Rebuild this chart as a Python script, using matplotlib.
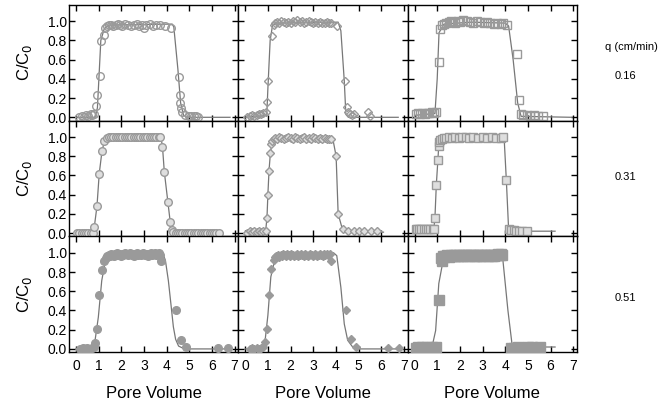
import matplotlib
matplotlib.use("Agg")
import matplotlib.pyplot as plt

plt.rcParams["font.family"] = ["Liberation Sans", "DejaVu Sans"]

# --- data (pore volume, C/C0) ---
# row 1: q = 0.16 cm/min
pv_00 = [0.15, 0.25, 0.35, 0.45, 0.55, 0.65, 0.72, 0.8, 0.9, 0.95, 1.05, 1.12, 1.22, 1.3, 1.38, 1.45,
         1.55, 1.65, 1.75, 1.85, 1.95, 2.05, 2.15, 2.3, 2.45, 2.55, 2.7, 2.8, 2.9, 3.0, 3.1, 3.25, 3.4,
         3.55, 3.7, 3.95, 4.2, 4.56, 4.58, 4.61, 4.64, 4.7, 4.8, 5.0, 5.1, 5.2, 5.3, 5.4]
c_00 = [0.0, 0.01, 0.0, 0.02, 0.01, 0.03, 0.02, 0.03, 0.12, 0.23, 0.43, 0.79, 0.86, 0.93, 0.95, 0.96,
        0.96, 0.95, 0.96, 0.97, 0.96, 0.95, 0.97, 0.96, 0.95, 0.96, 0.97, 0.95, 0.96, 0.93, 0.96, 0.97,
        0.95, 0.96, 0.96, 0.95, 0.93, 0.42, 0.23, 0.15, 0.1, 0.05, 0.02, 0.01, 0.01, 0.01, 0.01, 0.0]
fit_x_00 = [0.0, 0.85, 0.95, 1.1, 1.25, 1.45, 4.25, 4.32, 4.5, 4.62, 4.75, 4.9, 6.8]
fit_y_00 = [0.0, 0.0, 0.1, 0.8, 0.92, 0.96, 0.97, 0.94, 0.5, 0.15, 0.02, 0.0, 0.0]

pv_01 = [0.1, 0.2, 0.3, 0.4, 0.5, 0.6, 0.7, 0.8, 0.9, 0.96, 1.0, 1.19, 1.25, 1.33, 1.42, 1.5, 1.6,
         1.7, 1.8, 1.9, 2.0, 2.1, 2.2, 2.3, 2.4, 2.5, 2.6, 2.7, 2.8, 2.9, 3.0, 3.1, 3.2, 3.3, 3.4,
         3.5, 3.6, 3.7, 3.8, 4.07, 4.41, 4.49, 4.55, 4.62, 4.7, 4.8, 5.4, 5.5]
c_01 = [0.0, 0.01, 0.02, 0.01, 0.02, 0.03, 0.03, 0.04, 0.05, 0.16, 0.38, 0.85, 0.96, 0.98, 0.99, 0.98,
        1.0, 0.99, 0.98, 0.99, 0.98, 1.0, 0.99, 1.01, 0.99, 1.0, 0.98, 0.99, 1.0, 0.99, 0.98, 0.99,
        0.98, 0.99, 0.98, 0.98, 0.99, 0.98, 0.98, 0.95, 0.38, 0.11, 0.05, 0.03, 0.02, 0.03, 0.05, 0.01]
fit_x_01 = [0.0, 0.95, 1.0, 1.1, 1.2, 1.35, 4.1, 4.22, 4.37, 4.44, 4.55, 6.75]
fit_y_01 = [0.0, 0.02, 0.3, 0.8, 0.95, 0.98, 0.99, 0.9, 0.38, 0.03, 0.0, 0.0]

pv_02 = [0.05, 0.15, 0.25, 0.35, 0.45, 0.55, 0.65, 0.75, 0.85, 0.95, 1.07, 1.12, 1.2, 1.3, 1.4, 1.5,
         1.6, 1.7, 1.8, 1.9, 2.0, 2.15, 2.3, 2.45, 2.6, 2.75, 2.9, 3.05, 3.2, 3.35, 3.5, 3.65, 3.8,
         3.9, 4.09, 4.51, 4.61, 4.68, 4.8, 4.95, 5.1, 5.25, 5.45, 5.65]
c_02 = [0.03, 0.04, 0.03, 0.04, 0.03, 0.04, 0.04, 0.05, 0.04, 0.06, 0.58, 0.92, 0.96, 0.97, 0.98, 0.99,
        1.0, 0.99, 0.98, 1.0, 0.99, 1.01, 1.0, 0.99, 0.98, 1.0, 0.99, 0.98, 0.99, 0.98, 0.97, 0.98,
        0.97, 0.98, 0.96, 0.66, 0.18, 0.03, 0.02, 0.02, 0.01, 0.02, 0.01, 0.01]
fit_x_02 = [0.0, 0.9, 1.0, 1.08, 1.3, 2.5, 4.0, 4.15, 4.35, 4.55, 4.7, 6.95]
fit_y_02 = [0.02, 0.04, 0.4, 0.88, 0.97, 0.99, 0.98, 0.95, 0.6, 0.15, 0.01, 0.0]

# row 2: q = 0.31 cm/min
pv_10 = [0.05, 0.15, 0.25, 0.35, 0.45, 0.55, 0.65, 0.75, 0.81, 0.93, 1.03, 1.15, 1.26, 1.36, 1.45,
         1.55, 1.65, 1.75, 1.85, 1.95, 2.05, 2.15, 2.25, 2.35, 2.45, 2.55, 2.65, 2.75, 2.85, 2.95,
         3.05, 3.15, 3.25, 3.35, 3.45, 3.55, 3.65, 3.72, 3.82, 3.9, 4.06, 4.16, 4.23, 4.3, 4.4, 4.5,
         4.6, 4.7, 4.8, 4.9, 5.0, 5.1, 5.2, 5.3, 5.4, 5.5, 5.6, 5.7, 5.8, 5.9, 6.0, 6.1, 6.2, 6.3]
c_10 = [0.0, 0.0, 0.0, 0.0, 0.0, 0.0, 0.0, 0.0, 0.06, 0.28, 0.62, 0.85, 0.96, 0.99, 1.0, 1.0, 1.0,
        1.0, 1.0, 1.0, 1.0, 1.0, 1.0, 1.0, 1.0, 1.0, 1.0, 1.0, 1.0, 1.0, 1.0, 1.0, 1.0, 1.0, 1.0, 1.0,
        1.0, 1.0, 0.9, 0.64, 0.32, 0.12, 0.03, 0.01, 0.0, 0.0, 0.0, 0.0, 0.0, 0.0, 0.0, 0.0, 0.0, 0.0,
        0.0, 0.0, 0.0, 0.0, 0.0, 0.0, 0.0, 0.0, 0.0, 0.0]
fit_x_10 = [0.0, 0.75, 0.81, 0.93, 1.03, 1.15, 1.26, 1.36, 3.75, 3.82, 3.9, 4.06, 4.16, 4.23, 4.35, 6.3]
fit_y_10 = [0.0, 0.0, 0.06, 0.28, 0.62, 0.85, 0.96, 1.0, 1.0, 0.9, 0.64, 0.32, 0.12, 0.03, 0.0, 0.0]

pv_11 = [0.1, 0.2, 0.3, 0.4, 0.5, 0.6, 0.7, 0.8, 0.9, 0.96, 1.0, 1.05, 1.11, 1.14, 1.19, 1.25, 1.32,
         1.4, 1.5, 1.6, 1.7, 1.8, 1.9, 2.0, 2.1, 2.2, 2.3, 2.4, 2.5, 2.6, 2.7, 2.8, 2.9, 3.0, 3.1,
         3.2, 3.3, 3.4, 3.5, 3.6, 3.7, 3.78, 4.01, 4.1, 4.3, 4.52, 4.79, 5.04, 5.26, 5.53, 5.82]
c_11 = [0.0, 0.02, 0.01, 0.02, 0.01, 0.02, 0.01, 0.02, 0.02, 0.16, 0.4, 0.65, 0.83, 0.93, 0.96,
        0.98, 0.99, 0.98, 1.0, 0.99, 0.98, 0.99, 1.0, 0.99, 0.98, 1.0, 0.99, 0.98, 0.99, 1.0, 0.98,
        0.99, 0.98, 1.0, 0.99, 0.98, 0.99, 0.98, 0.99, 0.98, 0.98, 0.98, 0.8, 0.2, 0.04, 0.02, 0.02,
        0.02, 0.02, 0.02, 0.02]
fit_x_11 = [0.0, 0.9, 0.96, 1.0, 1.05, 1.11, 1.2, 1.4, 3.85, 4.01, 4.1, 4.3, 4.5, 6.1]
fit_y_11 = [0.0, 0.02, 0.16, 0.4, 0.65, 0.83, 0.97, 1.0, 1.0, 0.8, 0.2, 0.03, 0.01, 0.01]

pv_12 = [0.05, 0.12, 0.2, 0.3, 0.4, 0.5, 0.6, 0.7, 0.8, 0.87, 0.9, 0.96, 1.03, 1.07, 1.1, 1.13, 1.2,
         1.3, 1.4, 1.5, 1.65, 1.8, 1.95, 2.1, 2.25, 2.4, 2.6, 2.8, 3.0, 3.2, 3.4, 3.6, 3.8, 3.9,
         4.05, 4.15, 4.27, 4.37, 4.47, 4.6, 4.75, 4.94]
c_12 = [0.04, 0.04, 0.04, 0.04, 0.04, 0.04, 0.04, 0.04, 0.04, 0.04, 0.16, 0.5, 0.76, 0.91, 0.95,
        0.97, 0.98, 0.99, 0.99, 1.0, 0.99, 1.0, 0.99, 1.0, 1.0, 0.99, 1.0, 0.99, 1.0, 0.99, 1.0,
        0.99, 0.99, 1.0, 0.55, 0.04, 0.03, 0.03, 0.02, 0.02, 0.02, 0.02]
fit_x_12 = [0.0, 0.85, 0.9, 0.96, 1.03, 1.07, 1.2, 3.95, 4.05, 4.15, 4.5, 6.2]
fit_y_12 = [0.04, 0.04, 0.16, 0.5, 0.76, 0.92, 0.98, 1.0, 0.55, 0.04, 0.02, 0.02]

# row 3: q = 0.51 cm/min
pv_20 = [0.2, 0.3, 0.4, 0.5, 0.6, 0.7, 0.8, 0.84, 0.93, 1.03, 1.14, 1.24, 1.32, 1.38, 1.44, 1.5,
         1.56, 1.62, 1.68, 1.74, 1.8, 1.86, 1.92, 1.98, 2.04, 2.1, 2.16, 2.22, 2.28, 2.34, 2.4, 2.46,
         2.52, 2.58, 2.64, 2.7, 2.76, 2.82, 2.88, 2.94, 3.0, 3.06, 3.12, 3.18, 3.24, 3.3, 3.36, 3.42,
         3.48, 3.54, 3.6, 3.66, 3.72, 3.76, 4.42, 4.65, 4.85, 6.27, 6.71]
c_20 = [0.0, 0.01, 0.0, 0.01, 0.0, 0.01, 0.02, 0.06, 0.21, 0.56, 0.82, 0.91, 0.95, 0.97, 0.98, 0.97,
        0.99, 0.98, 0.97, 0.99, 1.0, 0.98, 0.99, 0.97, 0.99, 0.98, 1.0, 0.99, 0.98, 0.99, 1.0, 0.98,
        0.99, 0.97, 0.99, 1.0, 0.98, 0.99, 0.98, 1.0, 0.99, 0.98, 0.99, 0.97, 0.99, 1.0, 0.98, 0.99,
        1.0, 0.98, 0.99, 1.0, 0.98, 0.91, 0.4, 0.09, 0.02, 0.01, 0.01]
fit_x_20 = [0.0, 0.6, 0.81, 0.99, 1.14, 1.28, 1.5, 1.7, 3.7, 3.86, 3.95, 4.08, 4.2, 4.3, 4.4, 4.53,
            4.7, 5.0, 6.9]
fit_y_20 = [0.0, 0.0, 0.03, 0.33, 0.71, 0.89, 0.97, 0.99, 1.0, 0.98, 0.92, 0.71, 0.45, 0.23, 0.1,
            0.03, 0.01, 0.0, 0.0]

pv_21 = [0.2, 0.3, 0.4, 0.5, 0.6, 0.7, 0.8, 0.86, 0.96, 1.05, 1.14, 1.26, 1.32, 1.38, 1.44, 1.5,
         1.56, 1.62, 1.68, 1.74, 1.8, 1.86, 1.92, 1.98, 2.04, 2.1, 2.16, 2.22, 2.28, 2.34, 2.4, 2.46,
         2.52, 2.58, 2.64, 2.7, 2.76, 2.82, 2.88, 2.94, 3.0, 3.06, 3.12, 3.18, 3.24, 3.3, 3.36, 3.42,
         3.48, 3.54, 3.6, 3.66, 3.72, 3.78, 4.44, 4.67, 4.89, 6.32, 6.77]
c_21 = [0.0, 0.01, 0.0, 0.01, 0.0, 0.01, 0.02, 0.07, 0.21, 0.56, 0.83, 0.93, 0.96, 0.97, 0.98, 0.96,
        0.98, 0.97, 0.99, 0.98, 0.97, 0.99, 0.98, 0.97, 0.99, 0.98, 0.97, 0.98, 0.99, 0.97, 0.98,
        0.99, 0.98, 0.97, 0.99, 0.98, 0.97, 0.98, 0.99, 0.98, 0.97, 0.99, 0.98, 0.97, 0.98, 0.99,
        0.98, 0.97, 0.99, 0.98, 0.99, 0.98, 0.99, 0.92, 0.4, 0.1, 0.02, 0.01, 0.01]
fit_x_21 = [0.0, 0.6, 0.85, 1.0, 1.13, 1.3, 1.5, 1.8, 3.9, 4.04, 4.22, 4.37, 4.52, 4.74, 5.0, 6.9]
fit_y_21 = [0.0, 0.0, 0.03, 0.35, 0.75, 0.92, 0.97, 0.99, 1.0, 0.97, 0.64, 0.26, 0.09, 0.02, 0.0, 0.0]

pv_22 = [0.05, 0.15, 0.25, 0.35, 0.45, 0.55, 0.65, 0.75, 0.85, 0.95, 1.07, 1.15, 1.2, 1.25, 1.3,
         1.36, 1.42, 1.48, 1.54, 1.6, 1.66, 1.72, 1.78, 1.84, 1.9, 1.96, 2.02, 2.08, 2.14, 2.2, 2.26,
         2.32, 2.38, 2.44, 2.5, 2.56, 2.62, 2.68, 2.74, 2.8, 2.86, 2.92, 2.98, 3.04, 3.1, 3.16, 3.22,
         3.28, 3.34, 3.4, 3.46, 3.52, 3.58, 3.64, 3.7, 3.76, 3.82, 3.88, 4.27, 4.4, 4.55, 4.7, 4.85,
         5.0, 5.16, 5.53]
c_22 = [0.01, 0.02, 0.01, 0.02, 0.01, 0.02, 0.01, 0.02, 0.01, 0.02, 0.51, 0.95, 0.91, 0.97, 0.96,
        0.97, 0.98, 0.97, 0.96, 0.98, 0.97, 0.98, 0.97, 0.98, 0.97, 0.98, 0.97, 0.98, 0.97, 0.98,
        0.98, 0.97, 0.98, 0.97, 0.98, 0.98, 0.97, 0.98, 0.97, 0.98, 0.98, 0.97, 0.98, 0.97, 0.98,
        0.98, 0.97, 0.98, 0.98, 0.97, 0.98, 0.97, 0.98, 0.98, 0.99, 0.98, 0.99, 0.98, 0.01, 0.01,
        0.02, 0.01, 0.01, 0.02, 0.02, 0.02]
fit_x_22 = [0.0, 0.6, 0.78, 0.93, 1.07, 1.22, 1.45, 3.75, 3.9, 4.12, 4.3, 4.5, 6.2]
fit_y_22 = [0.02, 0.02, 0.03, 0.19, 0.68, 0.87, 0.99, 1.01, 0.92, 0.4, 0.05, 0.02, 0.02]

q_labels = ["0.16", "0.31", "0.51"]
markers = ["o", "D", "s"]
marker_sizes = [[5.5, 4.3, 5.5], [5.5, 4.3, 5.5], [5.5, 4.3, 6.5]]
faces = ["none", "#dedede", "#9a9a9a"]

pv = [[pv_00, pv_01, pv_02], [pv_10, pv_11, pv_12], [pv_20, pv_21, pv_22]]
cc = [[c_00, c_01, c_02], [c_10, c_11, c_12], [c_20, c_21, c_22]]
fx = [[fit_x_00, fit_x_01, fit_x_02], [fit_x_10, fit_x_11, fit_x_12], [fit_x_20, fit_x_21, fit_x_22]]
fy = [[fit_y_00, fit_y_01, fit_y_02], [fit_y_10, fit_y_11, fit_y_12], [fit_y_20, fit_y_21, fit_y_22]]

fig, axes = plt.subplots(3, 3, figsize=(6.58, 4.04), dpi=100, sharex=True, sharey=True)
fig.subplots_adjust(left=0.105, right=0.877, top=0.988, bottom=0.128, hspace=0, wspace=0)

for i in range(3):
    for j in range(3):
        ax = axes[i, j]
        ax.plot(fx[i][j], fy[i][j], color="#777777", linewidth=0.9, zorder=2)
        ax.plot(pv[i][j], cc[i][j], linestyle="none", marker=markers[j],
                markersize=marker_sizes[i][j], markerfacecolor=faces[i],
                markeredgecolor="#9a9a9a", markeredgewidth=1.0, zorder=3)
        ax.set_xlim(-0.3, 7.17)
        ax.set_ylim(-0.035, 1.17)
        ax.set_xticks(range(8))
        ax.set_yticks([0.0, 0.2, 0.4, 0.6, 0.8, 1.0])
        ax.tick_params(direction="in", top=True, right=True, length=4, width=1, labelsize=10)
        ax.tick_params(axis="x", pad=5)
        ax.tick_params(axis="y", pad=1.5)
        for s in ax.spines.values():
            s.set_linewidth(1.0)
        if j == 0:
            ax.set_ylabel("C/C$_0$", fontsize=12, labelpad=10)
            ax.set_yticklabels(["0.0", "0.2", "0.4", "0.6", "0.8", "1.0"])
        if i == 2:
            ax.set_xlabel("Pore Volume", fontsize=12, labelpad=9)

fig.text(0.959, 0.884, "q (cm/min)", fontsize=8, ha="center", va="center")
row_y = [0.812, 0.562, 0.262]
for k in range(3):
    fig.text(0.951, row_y[k], q_labels[k], fontsize=8, ha="center", va="center")

fig.savefig("out.png", dpi=100)
